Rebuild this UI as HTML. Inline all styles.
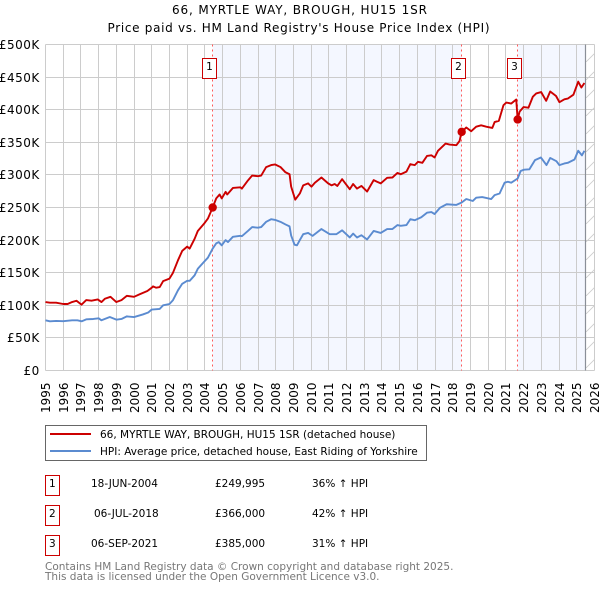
<!DOCTYPE html>
<html lang="en">
<head>
<meta charset="utf-8">
<title>66, MYRTLE WAY, BROUGH, HU15 1SR</title>
<style>
html,body{margin:0;padding:0;background:#fff;width:600px;height:590px;overflow:hidden}
svg{display:block}
text{font-family:"DejaVu Sans",sans-serif;fill:#000}
</style>
</head>
<body>
<svg id="chart" xmlns="http://www.w3.org/2000/svg" width="600" height="590" viewBox="0 0 600 590">
  <defs>
    <pattern id="hatch" patternUnits="userSpaceOnUse" width="18" height="18" x="586" y="44">
      <path d="M0 18 L18 0" stroke="#cccccc" stroke-width="0.8" fill="none"/>
    </pattern>
  </defs>
  <text x="172" y="14" font-size="12" textLength="255" lengthAdjust="spacing">66, MYRTLE WAY, BROUGH, HU15 1SR</text>
  <text x="107.5" y="32" font-size="12" textLength="382" lengthAdjust="spacing">Price paid vs. HM Land Registry's House Price Index (HPI)</text>
  <g id="shade"></g>
  <g id="grid"></g>
  <g id="axes"></g>
  <g id="salelines"></g>
  <g id="series"></g>
  <g id="markers"></g>

  <g>
    <rect x="45.5" y="425.5" width="381" height="35" fill="#fff" stroke="#666" stroke-width="1"/>
    <line x1="50" x2="91" y1="434" y2="434" stroke="#cc0000" stroke-width="2"/>
    <text x="100" y="438" font-size="10.5">66, MYRTLE WAY, BROUGH, HU15 1SR (detached house)</text>
    <line x1="50" x2="91" y1="451" y2="451" stroke="#5b8bd0" stroke-width="2"/>
    <text x="100" y="455" font-size="10.5">HPI: Average price, detached house, East Riding of Yorkshire</text>
  </g>

  <g font-size="10.5">
    <g>
      <rect x="45.5" y="475.5" width="14" height="20" fill="#fff" stroke="#cc0000" stroke-width="1"/>
      <text x="52.3" y="487" text-anchor="middle" font-size="10.5">1</text>
      <text x="91" y="487" font-size="10.5">18-JUN-2004</text>
      <text x="215" y="487" font-size="10.5">£249,995</text>
      <text x="312" y="487" font-size="10.5">36% ↑ HPI</text>
    </g>
    <g>
      <rect x="45.5" y="505.5" width="14" height="20" fill="#fff" stroke="#cc0000" stroke-width="1"/>
      <text x="52.3" y="517" text-anchor="middle" font-size="10.5">2</text>
      <text x="94" y="517" font-size="10.5">06-JUL-2018</text>
      <text x="215" y="517" font-size="10.5">£366,000</text>
      <text x="312" y="517" font-size="10.5">42% ↑ HPI</text>
    </g>
    <g>
      <rect x="45.5" y="535.5" width="14" height="20" fill="#fff" stroke="#cc0000" stroke-width="1"/>
      <text x="52.3" y="547" text-anchor="middle" font-size="10.5">3</text>
      <text x="91" y="547" font-size="10.5">06-SEP-2021</text>
      <text x="215" y="547" font-size="10.5">£385,000</text>
      <text x="312" y="547" font-size="10.5">31% ↑ HPI</text>
    </g>
  </g>

  <text x="45" y="570" font-size="10.5" style="fill:#777">Contains HM Land Registry data © Crown copyright and database right 2025.</text>
  <text x="45" y="580" font-size="10.5" style="fill:#777">This data is licensed under the Open Government Licence v3.0.</text>
</svg>
<script>
const yearTicks = [1995,1996,1997,1998,1999,2000,2001,2002,2003,2004,2005,2006,2007,2008,2009,2010,2011,2012,2013,2014,2015,2016,2017,2018,2019,2020,2021,2022,2023,2024,2025,2026];
const priceTicks = [0,50,100,150,200,250,300,350,400,450,500];
const priceTickLabels = ["£0","£50K","£100K","£150K","£200K","£250K","£300K","£350K","£400K","£450K","£500K"];

const priceDates = [1995,1995.25,1995.6,1996,1996.25,1996.5,1996.75,1997.03,1997.3,1997.6,1997.95,1998.16,1998.35,1998.67,1999,1999.29,1999.59,2000,2000.32,2000.75,2001,2001.07,2001.25,2001.45,2001.64,2002,2002.2,2002.48,2002.72,2003,2003.14,2003.42,2003.6,2003.95,2004.17,2004.44,2004.64,2004.83,2004.95,2005.17,2005.26,2005.58,2006,2006.09,2006.43,2006.67,2006.99,2007.18,2007.46,2007.74,2007.97,2008.27,2008.55,2008.78,2008.87,2009.1,2009.36,2009.55,2009.83,2010.02,2010.21,2010.58,2010.96,2011.15,2011.33,2011.48,2011.75,2012.18,2012.37,2012.59,2012.84,2013.16,2013.53,2013.72,2013.93,2014.29,2014.59,2014.87,2015.06,2015.38,2015.6,2015.85,2016.03,2016.28,2016.54,2016.79,2016.97,2017.16,2017.59,2017.82,2018.2,2018.38,2018.5,2018.76,2019.04,2019.32,2019.6,2019.89,2020.23,2020.36,2020.6,2020.86,2021.02,2021.3,2021.58,2021.66,2021.77,2021.99,2022.27,2022.52,2022.71,2022.99,2023.27,2023.5,2023.83,2024.02,2024.3,2024.49,2024.81,2025.08,2025.26,2025.43];
const priceValues = [105,104,104,102,102,105,107,101,108,107,109,105,110,113,105,108,114.5,113,117,122,127,129,127,128,137,141,150,169,183.5,190,187,202,214,225,233,250,264,270,264,274,270,280,281,279,291.5,299,298,299,312,315,316,312,304,301,282,262,271.5,284,287,282,288,296,287,284,286,283,293.5,278,286,279,283,274.5,292,289.5,287,295.5,296,303,301,305,316.5,315,320,318.5,329,330,326.7,337,348,346.6,345.6,352,366,372.7,367,374,376,374,372,381,383,407,411,409.5,415.6,385,397,404,403,420,425,427,413.6,428,421,411.6,416,417,423,443,434,441];

const hpiDates = [1995,1995.25,1995.6,1996,1996.5,1996.8,1997.05,1997.3,1997.7,1998,1998.16,1998.63,1999,1999.29,1999.59,2000,2000.5,2000.8,2001,2001.45,2001.64,2002,2002.2,2002.48,2002.72,2003,2003.14,2003.42,2003.6,2003.95,2004.17,2004.44,2004.64,2004.78,2004.95,2005.17,2005.3,2005.58,2006,2006.09,2006.43,2006.67,2006.99,2007.18,2007.46,2007.74,2007.97,2008.27,2008.55,2008.78,2008.87,2009.06,2009.2,2009.36,2009.55,2009.83,2010.08,2010.58,2011.05,2011.42,2011.75,2012.18,2012.37,2012.59,2012.84,2013.16,2013.53,2013.93,2014.29,2014.59,2014.87,2015.06,2015.38,2015.6,2015.85,2016.22,2016.54,2016.79,2016.97,2017.27,2017.65,2018.2,2018.5,2018.76,2019.13,2019.32,2019.66,2020.17,2020.36,2020.64,2020.92,2021.11,2021.3,2021.66,2021.83,2022.02,2022.32,2022.64,2022.97,2023.29,2023.5,2023.85,2024.02,2024.3,2024.49,2024.87,2025.08,2025.29,2025.43];
const hpiValues = [77,75.5,76,75.7,77,77,75.5,78.5,79,80,77,82,78,79,83,82,86,89,93.5,94.5,100,102,108,123,133,137.5,137.5,146,156,166.6,173,187,195,197,192,200,197,205,206.5,206,214,220,219,220,228,232,231,228,224,221,207,193,192,200,209,211,206.5,217,209,209,215,204,210,204,207.5,201,214,211,217,217,223,222,223,232,230.5,235,242,243,240,249.5,255,254,257.6,263,260,265,266,263,269,271.5,288,289.5,288,294.5,306,308,308.5,322.6,326.7,315,326,321,315,317.5,318.5,323.6,337,330,337];

const saleLabels = ["1","2","3"];
const saleDates = [2004.44,2018.5,2021.66];
const saleValues = [249.995,366,385];
const shadeStarts = [2004.44,2021.66];
const shadeEnds = [2018.5,2025.47];
const dataEnd = 2025.47;

const NS = 'http://www.w3.org/2000/svg';
const X0 = 45.5, X1 = 594.5, Y0 = 370.5, Y1 = 44.5;
const DAY0 = Date.UTC(1995,0,1), DAY1 = Date.UTC(2026,0,1);
function xScale(dec){
  const yr = Math.floor(dec);
  const a = Date.UTC(yr,0,1), b = Date.UTC(yr+1,0,1);
  const t = a + (dec-yr)*(b-a);
  return X0 + (t-DAY0)/(DAY1-DAY0)*(X1-X0);
}
function yScale(v){ return Y0 - v/500*(Y0-Y1); }
function snap(p){ return Math.floor(p)+0.5; }
function make(tag, parent, attrs){
  const el = document.createElementNS(NS, tag);
  for (const k in attrs) el.setAttribute(k, attrs[k]);
  parent.appendChild(el);
  return el;
}
const shade = document.getElementById('shade');
const grid = document.getElementById('grid');
const axes = document.getElementById('axes');
const saleG = document.getElementById('salelines');
const seriesG = document.getElementById('series');
const markersG = document.getElementById('markers');

shadeStarts.forEach((s,i)=>{
  const r = make('rect', shade, {x:xScale(s), y:Y1, width:xScale(shadeEnds[i])-xScale(s), height:Y0-Y1, fill:'#f4f7ff'});
  
  
});
const hatch = make('rect', shade, {x:snap(xScale(dataEnd)), y:Y1, width:X1-snap(xScale(dataEnd)), height:Y0-Y1, fill:'url(#hatch)'});



yearTicks.forEach(y=>{
  const x = snap(xScale(y));
  const l = make('line', grid, {x1:x, x2:x, y1:Y1, y2:Y0, stroke:'#cccccc', 'stroke-width':1});
  
  
  const t = make('text', axes, {transform:'translate('+(x+4.5)+',413) rotate(-90)', 'font-size':12});
  t.textContent = String(y);
  
  
});
priceTicks.forEach((v,i)=>{
  const y = snap(yScale(v));
  const l = make('line', grid, {x1:X0, x2:X1, y1:y, y2:y, stroke:'#cccccc', 'stroke-width':1});
  
  
  const t = make('text', axes, {x:39.8, y:y+4.5, 'text-anchor':'end', 'font-size':12, 'letter-spacing':0.5});
  t.textContent = priceTickLabels[i];
  
  
});
const endLine = make('line', grid, {x1:snap(xScale(dataEnd)), x2:snap(xScale(dataEnd)), y1:Y1, y2:Y0, stroke:'#8a8f98', 'stroke-width':1.2});



saleDates.forEach(d=>{
  const x = snap(xScale(d));
  const l = make('line', saleG, {x1:x, x2:x, y1:Y1, y2:Y0, stroke:'#ff5a5a', 'stroke-width':1, 'stroke-dasharray':'2 3'});
  
  
});

function pathFor(dates, values){
  return dates.map((d,i)=>(i?'L':'M')+xScale(d).toFixed(2)+' '+yScale(values[i]).toFixed(2)).join(' ');
}
const hpiLine = make('path', seriesG, {d:pathFor(hpiDates,hpiValues), fill:'none', stroke:'#5b8bd0', 'stroke-width':1.9, 'stroke-linejoin':'round'});


const priceLine = make('path', seriesG, {d:pathFor(priceDates,priceValues), fill:'none', stroke:'#cc0000', 'stroke-width':1.9, 'stroke-linejoin':'round'});



saleDates.forEach((d,i)=>{
  const x = xScale(d);
  const c = make('circle', markersG, {cx:x, cy:yScale(saleValues[i]), r:4.2, fill:'#cc0000'});
  
  
  const bx = Math.floor(x)-10+0.5;
  const b = make('rect', markersG, {x:bx, y:58.5, width:14, height:20, fill:'#fff', stroke:'#cc0000', 'stroke-width':1});
  
  
  const t = make('text', markersG, {x:bx+7, y:70, 'text-anchor':'middle', 'font-size':10.5});
  t.textContent = saleLabels[i];
  
  
});
</script>
</body>
</html>
